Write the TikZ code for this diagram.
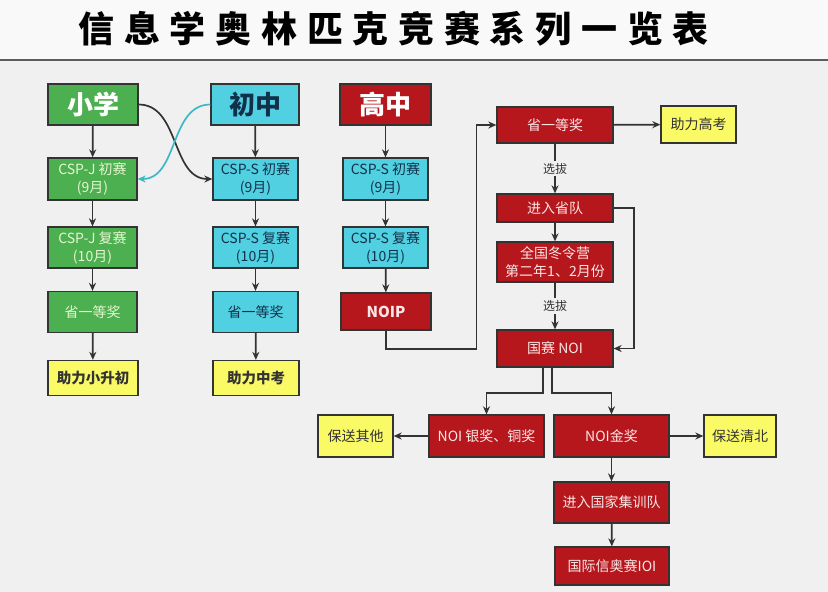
\documentclass[tikz,border=0pt]{standalone}
\usepackage{fontspec}
\setmainfont{Noto Sans CJK SC}
\usetikzlibrary{arrows.meta}
\definecolor{bgc}{HTML}{F0F0F0}
\definecolor{grn}{HTML}{4CAF50}
\definecolor{cyn}{HTML}{50D0E0}
\definecolor{rd}{HTML}{B5171D}
\definecolor{ylw}{HTML}{FAFA66}
\definecolor{edg}{HTML}{333333}
\definecolor{tel}{HTML}{3DB8C6}
\definecolor{navy}{HTML}{12304A}
\definecolor{pale}{HTML}{E8F6D2}
\definecolor{pink}{HTML}{FCE6E6}

\begin{document}
\begin{tikzpicture}[x=1pt, y=-1pt, >={Stealth[length=8pt,width=7pt]},
  box/.style = {draw=edg, line width=1.3pt, inner sep=0pt, align=center, font=\fontsize{14}{18}\selectfont},
  head/.style = {box, minimum width=90, minimum height=41, font=\fontsize{26}{26}\selectfont\bfseries},
  grnbox/.style = {box, fill=grn, text=pale, minimum width=89, minimum height=41},
  cynbox/.style = {box, fill=cyn, text=navy, minimum width=85, minimum height=41},
  redbox/.style = {box, fill=rd, text=pink, minimum width=116, minimum height=37},
  ylwbox/.style = {box, fill=ylw, text=edg, minimum width=75, minimum height=37},
  arr/.style = {->, draw=edg, line width=1.7pt}]
  \useasboundingbox[fill=bgc] (0,0) rectangle (828,592);
  \fill[white!60!bgc] (0,0) rectangle (828,59);
  \draw[edg!80, line width=2pt] (0,60) -- (828,60);
  \node[anchor=west, font=\fontsize{36}{36}\selectfont\bfseries\addfontfeature{LetterSpace=27}] (t) at (75,29) {信息学奥林匹克竞赛系列一览表};

  % primary school
  \node[head, fill=grn, text=white] (1) at (93,104.5) {小学};
  \node[grnbox, minimum height=42] (2) at (92.5,179) {CSP-J 初赛\\(9月)};
  \node[grnbox] (3) at (92.5,247.5) {CSP-J 复赛\\(10月)};
  \node[grnbox] (4) at (92.5,312) {省一等奖};
  \node[ylwbox, minimum width=90, minimum height=35, font=\fontsize{14.5}{18}\selectfont\bfseries] (5) at (93,378) {助力小升初};
  % junior high
  \node[head, fill=cyn, text=navy, minimum width=88] (6) at (255,104.5) {初中};
  \node[cynbox, minimum height=42] (7) at (255.5,179) {CSP-S 初赛\\(9月)};
  \node[cynbox] (8) at (255.5,247.5) {CSP-S 复赛\\(10月)};
  \node[cynbox] (9) at (255.5,312) {省一等奖};
  \node[ylwbox, minimum width=86, minimum height=35, font=\fontsize{14.5}{18}\selectfont\bfseries] (10) at (256,378) {助力中考};
  % senior high
  \node[head, fill=rd, text=white, minimum width=91] (11) at (385.5,104.5) {高中};
  \node[cynbox, minimum height=42] (12) at (385.5,179) {CSP-S 初赛\\(9月)};
  \node[cynbox] (13) at (385.5,247.5) {CSP-S 复赛\\(10月)};
  \node[redbox, minimum width=90, font=\fontsize{15}{18}\selectfont\bfseries] (14) at (386,311.5) {NOIP};

  \node[redbox, minimum height=36] (15) at (555,125) {省一等奖};
  \node[ylwbox] (16) at (698.5,124.5) {助力高考};
  \node[redbox, minimum height=28] (17) at (555,208) {进入省队};
  \node[redbox, minimum height=40] (18) at (555,262) {全国冬令营\\第二年1、2月份};
  \node[redbox] (19) at (555,348.5) {国赛 NOI};
  \node[redbox, minimum width=115, minimum height=42] (20) at (486.5,436) {NOI 银奖、铜奖};
  \node[redbox, minimum width=115, minimum height=42] (21) at (611.5,436) {NOI金奖};
  \node[ylwbox, minimum height=42] (22) at (355.5,436) {保送其他};
  \node[ylwbox, minimum width=72, minimum height=42] (23) at (740,436) {保送清北};
  \node[redbox, minimum width=115, minimum height=41] (24) at (611.5,502.5) {进入国家集训队};
  \node[redbox, minimum width=114, minimum height=38] (25) at (612,566) {国际信奥赛IOI};

  \path[arr]
  (1) edge (2) (2) edge (3) (3) edge (4) (4) edge (5)
  (6) edge (7) (7) edge (8) (8) edge (9) (9) edge (10)
  (11) edge (12) (12) edge (13) (13) edge (14)
  (15) edge (16)
  (15) edge node[fill=bgc, inner sep=2pt, text=edg, font=\fontsize{12}{12}\selectfont] {选拔} (17)
  (17) edge (18)
  (18) edge node[fill=bgc, inner sep=2pt, text=edg, font=\fontsize{12}{12}\selectfont] {选拔} (19)
  (20) edge (22)
  (21) edge (23)
  (21) edge (24)
  (24) edge (25);

  \draw[arr] (14.south) -- ++(0,18) -| ([xshift=-20]15.west) -- (15.west);
  \draw[arr] (17.east) -- ++(20,0) |- (19.east);
  \draw[arr] ([xshift=-12]19.south) -- ++(0,25) -| (20.north);
  \draw[arr] ([xshift=-3]19.south) -- ++(0,25) -| (21.north);
  \draw[arr] (1.east) to[out=0, in=180] (7.west);
  \draw[arr, draw=tel] (6.west) to[out=180, in=0] (2.east);
\end{tikzpicture}
\end{document}
